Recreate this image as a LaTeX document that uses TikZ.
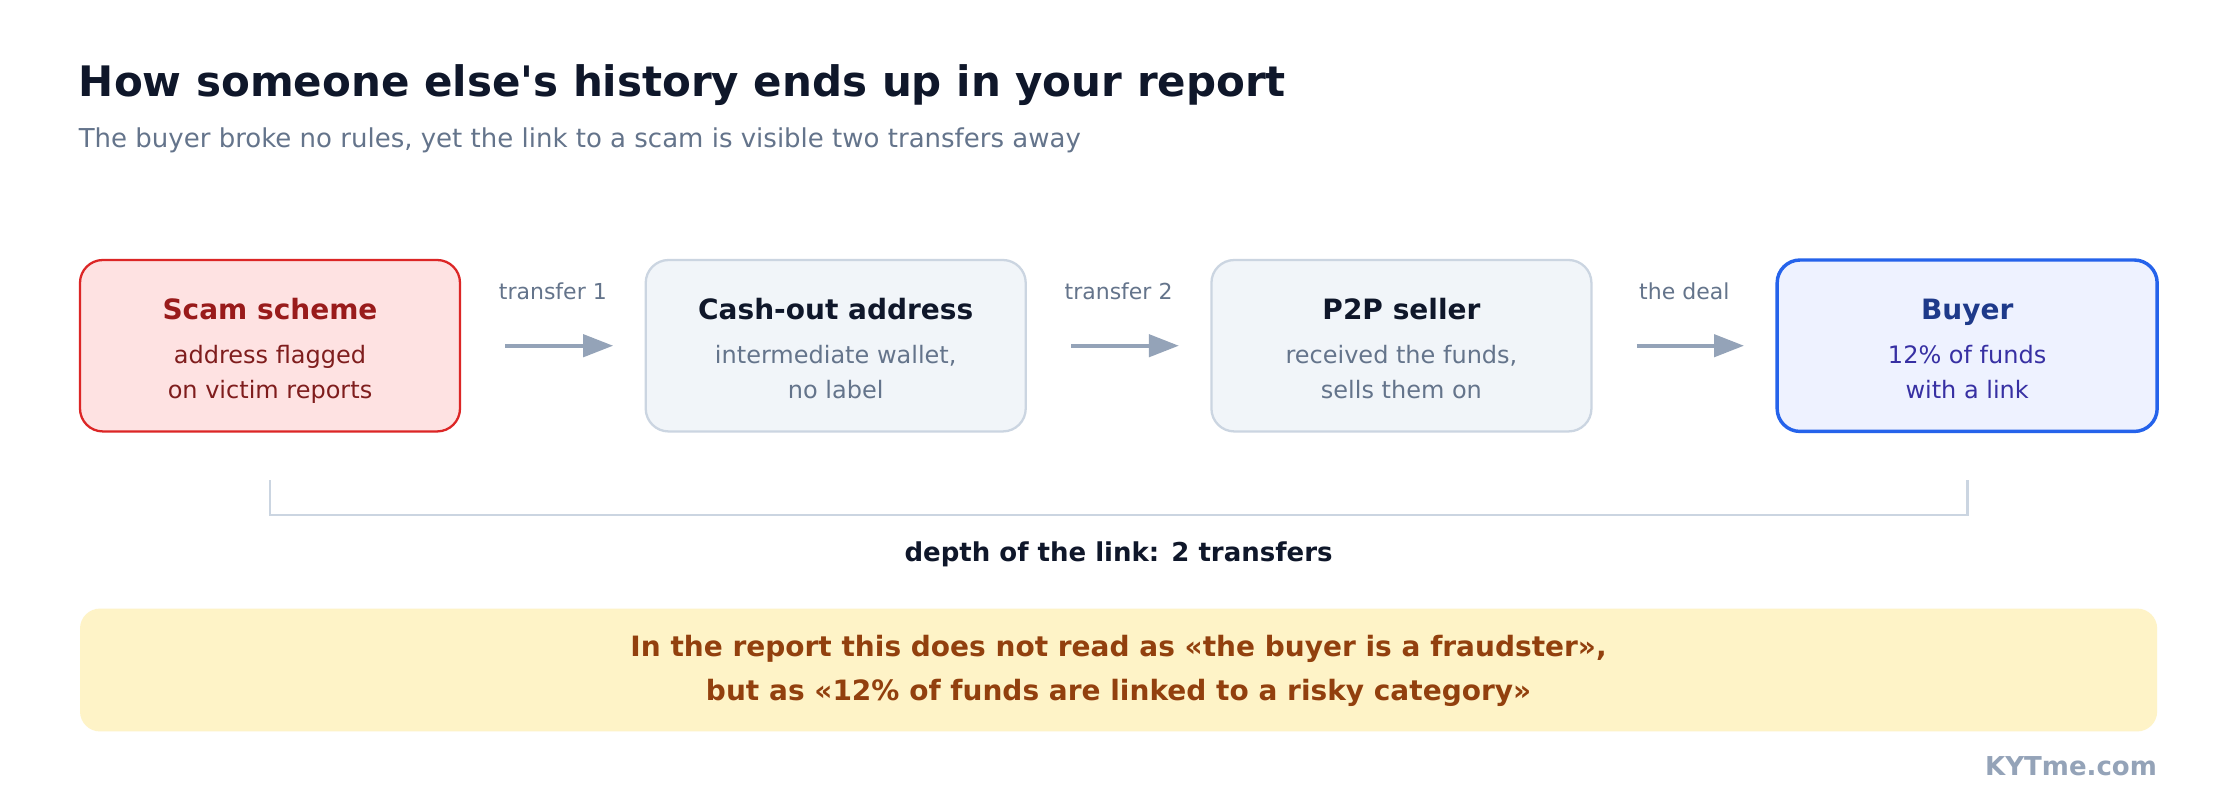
\documentclass[tikz,border=0pt]{standalone}
\usepackage{fontspec}
\newfontfamily\dv{DejaVu Sans}
\usetikzlibrary{arrows.meta}
\definecolor{ink}{HTML}{0F172A}
\definecolor{slate}{HTML}{64748B}
\definecolor{arrowc}{HTML}{94A3B8}
\definecolor{redfill}{HTML}{FEE2E2}
\definecolor{redline}{HTML}{DC2626}
\definecolor{redtitle}{HTML}{991B1B}
\definecolor{redbody}{HTML}{7F1D1D}
\definecolor{grayfill}{HTML}{F1F5F9}
\definecolor{grayline}{HTML}{CBD5E1}
\definecolor{bluefill}{HTML}{EEF2FF}
\definecolor{blueline}{HTML}{2563EB}
\definecolor{bluetitle}{HTML}{1E3A8A}
\definecolor{bluebody}{HTML}{3730A3}
\definecolor{yelfill}{HTML}{FEF3C7}
\definecolor{yeltext}{HTML}{92400E}
\tikzset{
  box/.style={rounded corners=16pt, minimum width=266pt, minimum height=120pt, line width=1.6pt, inner sep=0pt},
  boxtitle/.style={anchor=base, inner sep=0pt, font=\dv\bfseries\fontsize{19.6}{23}\selectfont},
  boxbody/.style={anchor=base, inner sep=0pt, font=\dv\fontsize{16.8}{20}\selectfont},
  arr/.style={draw=arrowc, line width=2.8pt, shorten <=31pt, shorten >=22pt, -{Triangle[length=21pt,width=15.5pt]}},
  arrlabel/.style={anchor=base, inner sep=0pt, text=slate, font=\dv\fontsize{15.4}{18}\selectfont},
  boldtext/.style={anchor=base, inner sep=0pt, font=\dv\bfseries\fontsize{18.2}{22}\selectfont},
  notetext/.style={anchor=base, inner sep=0pt, text=yeltext, font=\dv\bfseries\fontsize{19.6}{23}\selectfont}
}
\begin{document}
\begin{tikzpicture}[x=1pt,y=-1pt]
\useasboundingbox[fill=white] (0,0) rectangle (1568,560);
% title
\node[anchor=base west, inner sep=0pt, text=ink, font=\dv\bfseries\fontsize{29.4}{35}\selectfont] (title) at (55,67.7) {How someone else's history ends up in your report};
\node[anchor=base west, inner sep=0pt, text=slate, font=\dv\fontsize{18.2}{22}\selectfont] (subtitle) at (55,103) {The buyer broke no rules, yet the link to a scam is visible two transfers away};
% boxes
\node[box, fill=redfill, draw=redline] (scam) at (189,242) {};
\node[box, fill=grayfill, draw=grayline] (cash) at (585,242) {};
\node[box, fill=grayfill, draw=grayline] (p2p) at (981,242) {};
\node[box, fill=bluefill, draw=blueline, line width=2.4pt] (buyer) at (1377,242) {};
% box texts
\node[boxtitle, text=redtitle] (scamT) at (189,223.5) {Scam scheme};
\node[boxbody, text=redbody] (scamA) at (189,254.5) {address flagged};
\node[boxbody, text=redbody] (scamB) at (189,279) {on victim reports};
\node[boxtitle, text=ink] (cashT) at (585,223.5) {Cash-out address};
\node[boxbody, text=slate] (cashA) at (585,254.5) {intermediate wallet,};
\node[boxbody, text=slate] (cashB) at (585,279) {no label};
\node[boxtitle, text=ink] (p2pT) at (981,223.5) {P2P seller};
\node[boxbody, text=slate] (p2pA) at (981,254.5) {received the funds,};
\node[boxbody, text=slate] (p2pB) at (981,279) {sells them on};
\node[boxtitle, text=bluetitle] (buyerT) at (1377,223.5) {Buyer};
\node[boxbody, text=bluebody] (buyerA) at (1377,254.5) {12\% of funds};
\node[boxbody, text=bluebody] (buyerB) at (1377,279) {with a link};
% arrows
\draw[arr] (scam.east) -- (cash.west);
\draw[arr] (cash.east) -- (p2p.west);
\draw[arr] (p2p.east) -- (buyer.west);
\node[arrlabel] (l1) at (387,209.5) {transfer 1};
\node[arrlabel] (l2) at (783,209.5) {transfer 2};
\node[arrlabel] (l3) at (1179,209.5) {the deal};
% bracket
\coordinate (bl) at (189,336);
\coordinate (br) at (1377,336);
\draw[grayline, line width=2pt] (bl) |- (1377,360.5) -- (br);
\node[boldtext, text=ink] (depth) at (783,393) {depth of the link: 2 transfers};
% note
\node[rounded corners=14pt, fill=yelfill, minimum width=1454pt, minimum height=86pt, inner sep=0pt] (note) at (783,469) {};
\node[notetext] (noteA) at (783,459.7) {In the report this does not read as «the buyer is a fraudster»,};
\node[notetext] (noteB) at (783,490) {but as «12\% of funds are linked to a risky category»};
\node[anchor=base east, inner sep=0pt, text=arrowc, font=\dv\bfseries\fontsize{18.2}{22}\selectfont] (brand) at (1510,542.5) {KYTme.com};
\end{tikzpicture}
\end{document}
